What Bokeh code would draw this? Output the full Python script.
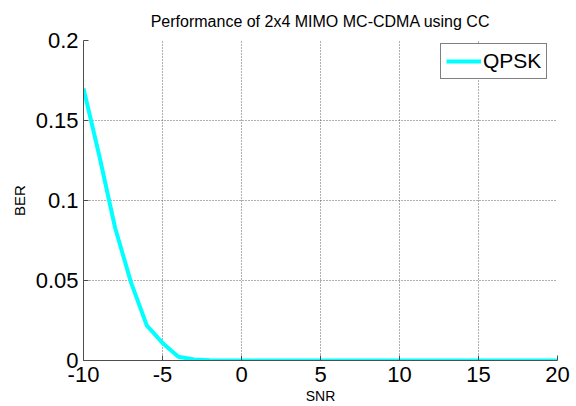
from bokeh.plotting import figure
from bokeh.models import Legend, LegendItem, FixedTicker, Range1d
from bokeh.embed import file_html
from bokeh.resources import INLINE

# ---- data ----
snr = [-10, -9, -8, -7, -6, -5, -4, -3, -2, -1, 0, 1, 2, 3, 4, 5, 6, 7, 8, 9, 10,
       11, 12, 13, 14, 15, 16, 17, 18, 19, 20]
ber_qpsk = [0.170, 0.128, 0.083, 0.049, 0.022, 0.011, 0.0023, 0.0006, 0.0001, 0.0, 0.0,
            0.0, 0.0, 0.0, 0.0, 0.0, 0.0, 0.0, 0.0, 0.0, 0.0,
            0.0, 0.0, 0.0, 0.0, 0.0, 0.0, 0.0, 0.0, 0.0, 0.0]
x_ticks = [-10, -5, 0, 5, 10, 15, 20]
x_tick_labels = ["-10", "-5", "0", "5", "10", "15", "20"]
y_ticks = [0, 0.05, 0.1, 0.15, 0.2]
y_tick_labels = ["0", "0.05", "0.1", "0.15", "0.2"]
series_name = "QPSK"
title_text = "Performance of 2x4 MIMO MC-CDMA using CC"
x_label = "SNR"
y_label = "BER"

FONT = "Liberation Sans"

p = figure(width=576, height=406, output_backend="svg", toolbar_location=None,
           title=title_text,
           x_range=Range1d(-10, 20), y_range=Range1d(0, 0.2),
           min_border_left=83, min_border_right=19, min_border_top=40,
           min_border_bottom=45)
p.outline_line_color = None
p.background_fill_color = "white"
p.border_fill_color = "white"

p.title.text_font = FONT
p.title.text_font_size = "16px"
p.title.text_font_style = "normal"
p.title.align = "center"
p.title.text_color = "black"
p.title.standoff = 21

r = p.line(snr, ber_qpsk, line_color="#00FFFF", line_width=4)

for ax, ticks, labels in ((p.xaxis[0], x_ticks, x_tick_labels),
                          (p.yaxis[0], y_ticks, y_tick_labels)):
    ax.ticker = FixedTicker(ticks=ticks)
    ax.major_label_overrides = {t: l for t, l in zip(ticks, labels)}
    ax.major_label_text_font = FONT
    ax.major_label_text_font_size = "22px"
    ax.major_label_text_color = "black"
    ax.axis_line_color = "#4d4d4d"
    ax.axis_line_width = 1
    ax.major_tick_in = 5
    ax.major_tick_out = 0
    ax.major_tick_line_color = "#4d4d4d"
    ax.minor_tick_line_color = None
    ax.axis_label_text_font = FONT
    ax.axis_label_text_font_style = "normal"
    ax.axis_label_text_color = "black"

p.xaxis.axis_label = x_label
p.xaxis.axis_label_text_font_size = "14px"
p.xaxis.major_label_standoff = 6
p.xaxis.axis_label_standoff = 3

p.yaxis.axis_label = y_label
p.yaxis.axis_label_text_font_size = "15px"
p.yaxis.major_label_standoff = 5
p.yaxis.axis_label_standoff = 5

for g in (p.xgrid[0], p.ygrid[0]):
    g.grid_line_color = "#606060"
    g.grid_line_dash = "1 2"
    g.grid_line_width = 1
p.xgrid.ticker = FixedTicker(ticks=x_ticks)
p.ygrid.ticker = FixedTicker(ticks=y_ticks)

legend = Legend(items=[LegendItem(label=series_name, renderers=[r])],
                location=(357, 281), margin=0, padding=5, spacing=0,
                glyph_width=35, glyph_height=20, label_height=23, label_standoff=2,
                label_text_font=FONT, label_text_font_size="21px",
                label_text_color="black",
                border_line_color="black", border_line_width=1,
                background_fill_color="white", background_fill_alpha=1.0)
p.add_layout(legend)

open("out.html", "w").write(file_html(p, INLINE))
